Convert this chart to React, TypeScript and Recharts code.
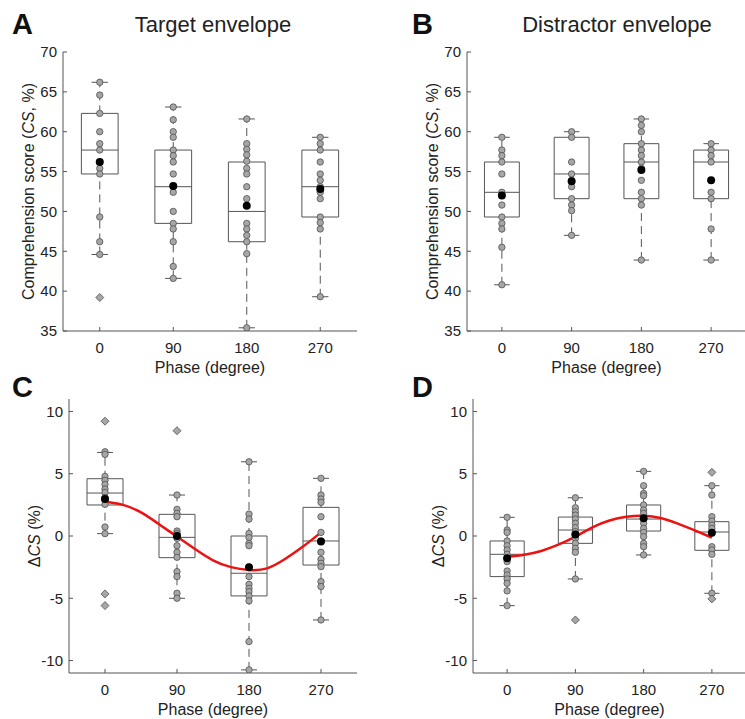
import React from "react";
import {
  ComposedChart,
  XAxis,
  YAxis,
  Scatter,
  Line,
  ReferenceArea,
  ReferenceLine
} from "recharts";

const FONT = '"Liberation Sans", Arial, Helvetica, sans-serif';

const phases = [0, 90, 180, 270];
const phaseLabels = ["0", "90", "180", "270"];
const csTicks = [35, 40, 45, 50, 55, 60, 65, 70];
const deltaTicks = [-10, -5, 0, 5, 10];
const curvePhases = [0, 22.5, 45, 67.5, 90, 112.5, 135, 157.5, 180, 202.5, 225, 247.5, 270];

// A - target envelope, comprehension score (%)
const targetPoints = [
  [66.2, 64.6, 62.3, 60.0, 58.5, 57.7, 56.2, 55.4, 54.7, 49.3, 46.2, 44.6],
  [63.1, 61.5, 60.0, 59.3, 57.7, 57.0, 56.2, 54.7, 53.1, 52.4, 50.0, 48.5, 47.8, 46.2, 43.1, 41.6],
  [61.6, 58.5, 57.8, 57.1, 56.3, 55.4, 54.7, 53.1, 51.6, 48.5, 47.8, 47.0, 46.2, 44.7, 35.4],
  [59.3, 58.5, 57.7, 56.2, 54.7, 53.9, 53.1, 52.4, 51.6, 49.3, 48.6, 47.8, 39.3]
];
const targetOutliers = [[39.2], [], [], []];
const targetMeans = [56.2, 53.2, 50.7, 52.8];
const targetQ1 = [54.7, 48.5, 46.2, 49.3];
const targetMedian = [57.7, 53.1, 50.0, 53.1];
const targetQ3 = [62.3, 57.7, 56.2, 57.7];
const targetLow = [44.6, 41.6, 35.4, 39.3];
const targetHigh = [66.2, 63.1, 61.6, 59.3];

// B - distractor envelope, comprehension score (%)
const distractorPoints = [
  [59.3, 57.7, 57.0, 56.2, 54.7, 52.4, 50.8, 49.3, 48.5, 47.8, 45.5, 40.8],
  [60.0, 59.3, 56.2, 54.7, 53.9, 53.1, 51.6, 50.8, 50.1, 47.0],
  [61.6, 60.8, 60.0, 58.5, 57.7, 57.0, 56.2, 55.4, 53.9, 52.4, 51.6, 50.8, 43.9],
  [58.5, 57.7, 57.0, 56.2, 52.4, 51.6, 47.8, 43.9]
];
const distractorOutliers = [[], [], [], []];
const distractorMeans = [52.0, 53.8, 55.2, 53.9];
const distractorQ1 = [49.3, 51.6, 51.6, 51.6];
const distractorMedian = [52.4, 54.7, 56.2, 56.2];
const distractorQ3 = [56.2, 59.3, 58.5, 57.7];
const distractorLow = [40.8, 47.0, 43.9, 43.9];
const distractorHigh = [59.3, 60.0, 61.6, 58.5];

// C - target envelope, delta CS (%)
const targetDeltaPoints = [
  [6.76, 6.55, 4.79, 4.47, 4.14, 3.77, 3.5, 3.1, 2.9, 2.54, 0.72, 0.19],
  [3.29, 2.14, 1.82, 1.55, 0.4, 0.21, 0.05, -0.19, -0.78, -1.31, -1.71, -2.86, -3.26, -4.6, -5.0],
  [5.96, 1.76, 1.36, 0.21, -0.13, -0.59, -0.78, -2.5, -3.26, -3.88, -4.2, -4.47, -4.81, -5.21, -8.48, -10.75],
  [4.63, 3.29, 2.97, 2.7, 1.55, 0.29, -0.4, -1.31, -1.87, -2.19, -2.46, -3.66, -4.06, -6.74]
];
const targetDeltaOutliers = [[9.22, -4.65, -5.59], [8.45], [], []];
const targetDeltaMeans = [2.97, 0.0, -2.51, -0.45];
const targetDeltaQ1 = [2.49, -1.74, -4.81, -2.33];
const targetDeltaMedian = [3.45, -0.11, -2.99, -0.4];
const targetDeltaQ3 = [4.6, 1.74, 0.0, 2.3];
const targetDeltaLow = [0.19, -5.0, -10.75, -6.74];
const targetDeltaHigh = [6.71, 3.29, 5.96, 4.63];
const targetFit = [2.75, 2.5, 1.9, 0.95, -0.05, -1.05, -1.95, -2.5, -2.73, -2.6, -1.85, -0.85, 0.29];

// D - distractor envelope, delta CS (%)
const distractorDeltaPoints = [
  [1.5, 0.48, 0.29, -0.4, -0.78, -1.12, -1.47, -1.79, -2.06, -2.81, -3.13, -3.45, -3.8, -4.41, -5.59],
  [3.07, 2.27, 1.95, 1.68, 1.36, 1.02, 0.67, 0.35, 0.13, -0.19, -0.59, -0.99, -1.31, -3.45],
  [5.19, 4.04, 3.42, 3.24, 2.49, 2.09, 1.82, 1.42, 1.02, 0.61, 0.29, -0.05, -0.59, -0.86, -1.52],
  [4.04, 3.29, 1.55, 1.2, 0.88, 0.61, 0.27, -0.86, -1.12, -1.47, -4.6]
];
const distractorDeltaOutliers = [[], [-6.74], [], [5.11, -5.05]];
const distractorDeltaMeans = [-1.79, 0.13, 1.42, 0.27];
const distractorDeltaQ1 = [-3.26, -0.59, 0.4, -1.15];
const distractorDeltaMedian = [-1.47, 0.48, 1.36, 0.32];
const distractorDeltaQ3 = [-0.4, 1.52, 2.49, 1.15];
const distractorDeltaLow = [-5.59, -3.45, -1.52, -4.6];
const distractorDeltaHigh = [1.5, 3.07, 5.19, 4.04];
const distractorFit = [-1.66, -1.5, -1.2, -0.7, -0.05, 0.7, 1.25, 1.55, 1.63, 1.45, 1.0, 0.45, -0.13];

const LINE = "#555555";
const BOX_HALF = 22.5;
const CAP_HALF = 10;
const Y_AXIS_W = 40;
const X_AXIS_H = 30;

type Group = {
  points: number[][];
  outliers: number[][];
  means: number[];
  q1: number[];
  median: number[];
  q3: number[];
  low: number[];
  high: number[];
};

const toXY = (groups: number[][]) =>
  groups.flatMap((vals, i) => vals.map((v) => ({ x: phases[i], y: v })));

const dotShape = (props: any) => (
  <circle cx={props.cx} cy={props.cy} r={3.2} fill="#a6a6a6" stroke="#505050" strokeWidth={0.8} />
);
const meanShape = (props: any) => <circle cx={props.cx} cy={props.cy} r={4} fill="#000" />;
const diamondShape = (props: any) => {
  const { cx, cy } = props;
  const s = 4;
  return (
    <polygon
      points={`${cx},${cy - s} ${cx + s},${cy} ${cx},${cy + s} ${cx - s},${cy}`}
      fill="#a6a6a6"
      stroke="#505050"
      strokeWidth={0.8}
    />
  );
};

function boxParts(id: string, g: Group) {
  return phases.flatMap((p, i) => [
    <ReferenceLine
      key={`${id}-wl${i}`}
      segment={[{ x: p, y: g.low[i] }, { x: p, y: g.q1[i] }]}
      stroke={LINE}
      strokeDasharray="8 5"
    />,
    <ReferenceLine
      key={`${id}-wh${i}`}
      segment={[{ x: p, y: g.q3[i] }, { x: p, y: g.high[i] }]}
      stroke={LINE}
      strokeDasharray="8 5"
    />,
    <ReferenceLine
      key={`${id}-cl${i}`}
      segment={[{ x: p - CAP_HALF, y: g.low[i] }, { x: p + CAP_HALF, y: g.low[i] }]}
      stroke={LINE}
    />,
    <ReferenceLine
      key={`${id}-ch${i}`}
      segment={[{ x: p - CAP_HALF, y: g.high[i] }, { x: p + CAP_HALF, y: g.high[i] }]}
      stroke={LINE}
    />,
    <ReferenceArea
      key={`${id}-box${i}`}
      x1={p - BOX_HALF}
      x2={p + BOX_HALF}
      y1={g.q1[i]}
      y2={g.q3[i]}
      fill="none"
      fillOpacity={0}
      stroke={LINE}
      strokeWidth={1}
    />,
    <ReferenceLine
      key={`${id}-med${i}`}
      segment={[{ x: p - BOX_HALF, y: g.median[i] }, { x: p + BOX_HALF, y: g.median[i] }]}
      stroke={LINE}
    />
  ]);
}

type Part = { text: string; italic?: boolean };

type PanelProps = {
  id: string;
  left: number;
  top: number;
  width: number;
  height: number;
  // plot-area insets
  inset: { top: number; right: number; bottom: number; left: number };
  domain: [number, number];
  ticks: number[];
  group: Group;
  fit?: number[];
  yLabel: Part[];
};

function Panel({ id, left, top, width, height, inset, domain, ticks, group, fit, yLabel }: PanelProps) {
  const plotH = height - inset.top - inset.bottom;
  const plotW = width - inset.left - inset.right;
  const ylx = inset.left - 35;
  const yly = inset.top + plotH / 2;
  const xlx = inset.left + plotW / 2;
  const xly = inset.top + plotH + 36;
  const curve = fit ? curvePhases.map((p, i) => ({ x: p, y: fit[i] })) : [];
  const margin = {
    top: inset.top,
    right: inset.right,
    bottom: inset.bottom - X_AXIS_H,
    left: inset.left - Y_AXIS_W
  };

  return (
    <div style={{ position: "absolute", left, top }}>
      <ComposedChart width={width} height={height} margin={margin}>
        <XAxis
          type="number"
          dataKey="x"
          domain={[-45, 315]}
          allowDataOverflow
          ticks={phases}
          interval={0}
          height={X_AXIS_H}
          tickSize={-4}
          tickMargin={15}
          tickFormatter={(v: number) => phaseLabels[phases.indexOf(v)]}
          tick={{ fontSize: 15, fill: "#222" }}
          tickLine={{ stroke: LINE }}
          axisLine={{ stroke: LINE }}
          label={() => (
            <text x={xlx} y={xly} textAnchor="middle" dominantBaseline="central" fontSize={16} fill="#222">
              Phase (degree)
            </text>
          )}
        />
        <YAxis
          type="number"
          dataKey="y"
          domain={domain}
          allowDataOverflow
          ticks={ticks}
          interval={0}
          width={Y_AXIS_W}
          tickSize={-4}
          tickMargin={10}
          tick={{ fontSize: 15, fill: "#222" }}
          tickLine={{ stroke: LINE }}
          axisLine={{ stroke: LINE }}
          label={() => (
            <text
              x={ylx}
              y={yly}
              transform={`rotate(-90, ${ylx}, ${yly})`}
              textAnchor="middle"
              dominantBaseline="central"
              fontSize={16}
              fill="#222"
            >
              {yLabel.map((part, k) => (
                <tspan key={k} fontStyle={part.italic ? "italic" : "normal"}>
                  {part.text}
                </tspan>
              ))}
            </text>
          )}
        />
        {boxParts(id, group)}
        <Scatter data={toXY(group.points)} shape={dotShape} isAnimationActive={false} />
        <Scatter data={toXY(group.outliers)} shape={diamondShape} isAnimationActive={false} />
        {fit && (
          <Line
            data={curve}
            dataKey="y"
            type="natural"
            stroke="#ee1111"
            strokeWidth={2.5}
            dot={false}
            activeDot={false}
            isAnimationActive={false}
          />
        )}
        <Scatter
          data={group.means.map((v, i) => ({ x: phases[i], y: v }))}
          shape={meanShape}
          isAnimationActive={false}
        />
      </ComposedChart>
    </div>
  );
}

const csLabel: Part[] = [
  { text: "Comprehension score (" },
  { text: "CS", italic: true },
  { text: ", %)" }
];
const deltaLabel: Part[] = [{ text: "Δ" }, { text: "CS", italic: true }, { text: " (%)" }];

export default function App() {
  return (
    <div
      style={{
        position: "absolute",
        left: 0,
        top: 0,
        width: 745,
        height: 719,
        overflow: "hidden",
        background: "#fff",
        fontFamily: FONT
      }}
    >
      <Panel
        id="a"
        left={0}
        top={0}
        width={365}
        height={380}
        inset={{ top: 52, right: 8, bottom: 49, left: 63 }}
        domain={[35, 70]}
        ticks={csTicks}
        group={{
          points: targetPoints,
          outliers: targetOutliers,
          means: targetMeans,
          q1: targetQ1,
          median: targetMedian,
          q3: targetQ3,
          low: targetLow,
          high: targetHigh
        }}
        yLabel={csLabel}
      />
      <Panel
        id="b"
        left={370}
        top={0}
        width={376}
        height={380}
        inset={{ top: 52, right: 0, bottom: 49, left: 97 }}
        domain={[35, 70]}
        ticks={csTicks}
        group={{
          points: distractorPoints,
          outliers: distractorOutliers,
          means: distractorMeans,
          q1: distractorQ1,
          median: distractorMedian,
          q3: distractorQ3,
          low: distractorLow,
          high: distractorHigh
        }}
        yLabel={csLabel}
      />
      <Panel
        id="c"
        left={0}
        top={370}
        width={365}
        height={349}
        inset={{ top: 29, right: 8, bottom: 46, left: 69 }}
        domain={[-11, 11]}
        ticks={deltaTicks}
        group={{
          points: targetDeltaPoints,
          outliers: targetDeltaOutliers,
          means: targetDeltaMeans,
          q1: targetDeltaQ1,
          median: targetDeltaMedian,
          q3: targetDeltaQ3,
          low: targetDeltaLow,
          high: targetDeltaHigh
        }}
        fit={targetFit}
        yLabel={deltaLabel}
      />
      <Panel
        id="d"
        left={370}
        top={370}
        width={376}
        height={349}
        inset={{ top: 29, right: 0, bottom: 46, left: 103 }}
        domain={[-11, 11]}
        ticks={deltaTicks}
        group={{
          points: distractorDeltaPoints,
          outliers: distractorDeltaOutliers,
          means: distractorDeltaMeans,
          q1: distractorDeltaQ1,
          median: distractorDeltaMedian,
          q3: distractorDeltaQ3,
          low: distractorDeltaLow,
          high: distractorDeltaHigh
        }}
        fit={distractorFit}
        yLabel={deltaLabel}
      />
      <svg
        width={745}
        height={719}
        style={{ position: "absolute", left: 0, top: 0, pointerEvents: "none" }}
      >
        <g fill="#111" fontWeight="bold" fontSize={29}>
          <text x={12} y={34}>A</text>
          <text x={412} y={34}>B</text>
          <text x={12} y={397}>C</text>
          <text x={412} y={397}>D</text>
        </g>
        <g fill="#222" fontSize={22} textAnchor="middle">
          <text x={213} y={32}>Target envelope</text>
          <text x={617} y={32}>Distractor envelope</text>
        </g>
      </svg>
    </div>
  );
}
